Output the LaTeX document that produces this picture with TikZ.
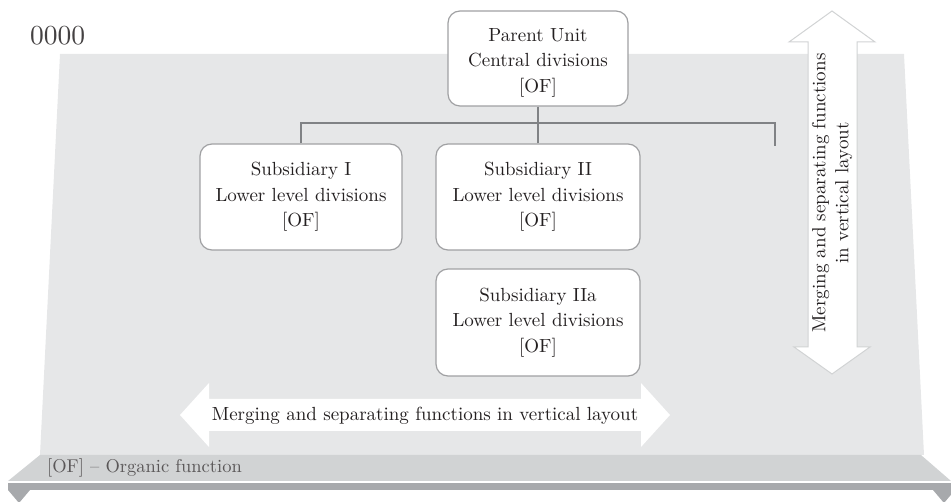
\documentclass[tikz,border=0pt]{standalone}
\usepackage{fontspec}
% the 10pt design of Latin Modern at every size: sturdier and wider letters
\setmainfont{lmroman10}[Extension=.otf,UprightFont=*-regular,BoldFont=*-bold,
  ItalicFont=*-italic,BoldItalicFont=*-bolditalic]
\begin{document}
\definecolor{panel}{HTML}{E6E7E8}
\definecolor{band}{HTML}{D1D3D4}
\definecolor{strip}{HTML}{A7A9AC}
\definecolor{boxline}{HTML}{A0A1A3}
\definecolor{wire}{HTML}{808285}
\definecolor{ink}{HTML}{231F20}
\begin{tikzpicture}[x=1pt,y=-1pt,
  unitbox/.style={draw=boxline,line width=1.2pt,fill=white,rounded corners=12pt,
    align=center,inner sep=0pt,text=ink,
    font=\fontsize{19}{25.5}\selectfont},
  unittext/.style={align=center,inner sep=0pt,text=ink,
    font=\fontsize{19}{25.5}\selectfont},
  wireline/.style={draw=wire,line width=1.3pt},
  arrowtext/.style={text=ink,align=center,inner sep=0pt,font=\fontsize{19}{23}\selectfont}]
\useasboundingbox (0,0) rectangle (951,502);
\clip (0,0) rectangle (951,502);

% background panel and shelf
\fill[panel] (60,54) -- (904,54) -- (924,455) -- (40,455) -- cycle;
\fill[band] (40,455) -- (921,455) -- (951,481) -- (8,481) -- cycle;
\fill[strip] (8,483) rectangle (951,490);
\fill[strip] (8,490) -- (30,490) -- (19,503) -- cycle;
\fill[strip] (933,490) -- (955,490) -- (944,503) -- cycle;

\node[anchor=west,inner sep=0pt,text=ink!85,font=\fontsize{27.5}{30}\selectfont] (code) at (30,36) {0000};
\node[anchor=west,inner sep=0pt,text=ink!75,font=\fontsize{18.5}{20}\selectfont] (legend) at (47,468) {[OF] – Organic function};

% organisation units
\node[unitbox,minimum width=180pt,minimum height=95pt] (parent) at (538,58.5) {};
\node[unittext] (parenttext) at ([yshift=-4pt]parent.center)
  {Parent Unit\\Central divisions\\{}[OF]};
\node[unitbox,minimum width=202pt,minimum height=106pt] (subI) at (301,197)
  {Subsidiary I\\Lower level divisions\\{}[OF]};
\node[unitbox,minimum width=204pt,minimum height=106pt] (subII) at (538,197)
  {Subsidiary II\\Lower level divisions\\{}[OF]};
\node[unitbox,minimum width=204pt,minimum height=107pt] (subIIa) at (538,322.5)
  {Subsidiary IIa\\Lower level divisions\\{}[OF]};

% connectors
\coordinate (busR) at (775,123);
\coordinate (openend) at (775,146);
\draw[wireline] (parent.south) -- (parent.south |- busR);
\draw[wireline] (subI.north) |- (busR) -- (openend);
\draw[wireline] (subII.north) -- (subII.north |- busR);

% horizontal double arrow
\fill[white] (180,415) -- (209,383) -- (209,399) -- (641,399) -- (641,383) -- (670,415)
  -- (641,447) -- (641,431) -- (209,431) -- (209,447) -- cycle;
\node[arrowtext] (hlabel) at (425,416) {Merging and separating functions in vertical layout};

% vertical double arrow
\filldraw[fill=white,draw=band,line width=1pt] (832,11) -- (875,42) -- (857,42) -- (857,347) -- (870,347)
  -- (832,374) -- (794,347) -- (808,347) -- (808,42) -- (789,42) -- cycle;
\node[arrowtext,rotate=90] (vlabel) at (832,193) {Merging and separating functions\\in vertical layout};
\end{tikzpicture}
\end{document}
